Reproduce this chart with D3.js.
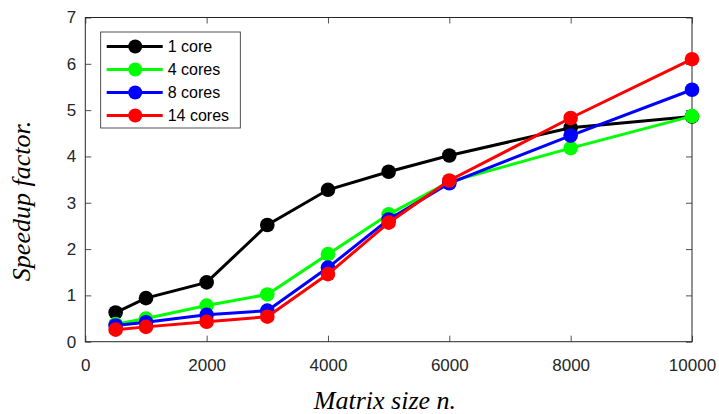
<!DOCTYPE html>
<html>
<head>
<script src="https://d3js.org/d3.v7.min.js"></script>
<style>
  body { margin: 0; background: #fff; }
  text { font-family: "Liberation Sans", Arial, sans-serif; }
</style>
</head>
<body>
<script>
const sizes = [500, 1000, 2000, 3000, 4000, 5000, 6000, 8000, 10000];
const core1 = [0.63, 0.94, 1.28, 2.52, 3.28, 3.67, 4.02, 4.62, 4.86];
const core4 = [0.38, 0.50, 0.78, 1.02, 1.89, 2.75, 3.45, 4.18, 4.87];
const core8 = [0.35, 0.42, 0.58, 0.67, 1.60, 2.64, 3.42, 4.45, 5.44];
const core14 = [0.26, 0.32, 0.43, 0.54, 1.46, 2.57, 3.48, 4.83, 6.10];
const seriesNames = ['1 core', '4 cores', '8 cores', '14 cores'];
const seriesColors = ['#000000', '#00ff00', '#0000ff', '#ff0000'];
const xTicks = [0, 2000, 4000, 6000, 8000, 10000];
const yTicks = [0, 1, 2, 3, 4, 5, 6, 7];

const series = [core1, core4, core8, core14].map((vals, i) => ({
  name: seriesNames[i],
  color: seriesColors[i],
  points: vals.map((v, j) => ({x: sizes[j], y: v}))
}));

const width = 719, height = 414;
const margin = {top: 17.5, right: 27, bottom: 72.3, left: 85.3};
const tickLen = 6;
const axisColor = '#262626';

const x = d3.scaleLinear().domain([0, 10000])
  .range([margin.left, width - margin.right]);
const y = d3.scaleLinear().domain([0, 7])
  .range([height - margin.bottom, margin.top]);

const svg = d3.select('body').append('svg')
  .attr('width', width).attr('height', height);

function styleAxis(g) {
  g.select('.domain').remove();
  g.selectAll('.tick line').attr('stroke', axisColor).attr('stroke-width', 0.8);
  g.selectAll('.tick text').attr('fill', axisColor)
    .style('font-size', '17px').style('font-family', '"Liberation Sans", Arial, sans-serif');
}

// bottom / top
svg.append('g')
  .attr('transform', `translate(0,${y(0)})`)
  .call(d3.axisBottom(x).tickValues(xTicks).tickFormat(d3.format('d'))
    .tickSizeInner(-tickLen).tickSizeOuter(0).tickPadding(17))
  .call(styleAxis);
svg.append('g')
  .attr('transform', `translate(0,${y(7)})`)
  .call(d3.axisTop(x).tickValues(xTicks).tickFormat('')
    .tickSizeInner(-tickLen).tickSizeOuter(0))
  .call(styleAxis);
// left / right
svg.append('g')
  .attr('transform', `translate(${x(0)},0)`)
  .call(d3.axisLeft(y).tickValues(yTicks).tickFormat(d3.format('d'))
    .tickSizeInner(-tickLen).tickSizeOuter(0).tickPadding(9))
  .call(styleAxis);
svg.append('g')
  .attr('transform', `translate(${x(10000)},0)`)
  .call(d3.axisRight(y).tickValues(yTicks).tickFormat('')
    .tickSizeInner(-tickLen).tickSizeOuter(0))
  .call(styleAxis);

svg.append('rect')
  .attr('x', x(0)).attr('y', y(7))
  .attr('width', x(10000) - x(0)).attr('height', y(0) - y(7))
  .attr('fill', 'none').attr('stroke', axisColor).attr('stroke-width', 1);

const line = d3.line().x(d => x(d.x)).y(d => y(d.y));

series.forEach(s => {
  const g = svg.append('g');
  g.append('path')
    .datum(s.points)
    .attr('fill', 'none')
    .attr('stroke', s.color)
    .attr('stroke-width', 3)
    .attr('d', line);
  g.selectAll('circle')
    .data(s.points)
    .join('circle')
    .attr('cx', d => x(d.x))
    .attr('cy', d => y(d.y))
    .attr('r', 7.3)
    .attr('fill', s.color);
});

// legend
const lg = svg.append('g').attr('transform', 'translate(100.7,32)');
lg.append('rect')
  .attr('width', 139.6).attr('height', 96)
  .attr('fill', '#fff').attr('stroke', axisColor).attr('stroke-width', 0.8);
series.forEach((s, i) => {
  const cy = 14.5 + i * 23;
  lg.append('line')
    .attr('x1', 6).attr('x2', 62).attr('y1', cy).attr('y2', cy)
    .attr('stroke', s.color).attr('stroke-width', 3);
  lg.append('circle')
    .attr('cx', 34.5).attr('cy', cy).attr('r', 7).attr('fill', s.color);
  lg.append('text')
    .attr('x', 67).attr('y', cy + 5.8)
    .attr('fill', '#000')
    .style('font-size', '16px')
    .text(s.name);
});

// axis titles
svg.append('text')
  .attr('x', 385).attr('y', 409)
  .attr('text-anchor', 'middle')
  .style('font-family', '"Liberation Serif", "Times New Roman", serif')
  .style('font-style', 'italic')
  .style('font-size', '26px')
  .attr('fill', '#000')
  .text('Matrix size n.');

svg.append('text')
  .attr('transform', 'translate(30,201) rotate(-90)')
  .attr('text-anchor', 'middle')
  .style('font-family', '"Liberation Serif", "Times New Roman", serif')
  .style('font-style', 'italic')
  .style('font-size', '26px')
  .attr('fill', '#000')
  .text('Speedup factor.');
</script>
</body>
</html>
